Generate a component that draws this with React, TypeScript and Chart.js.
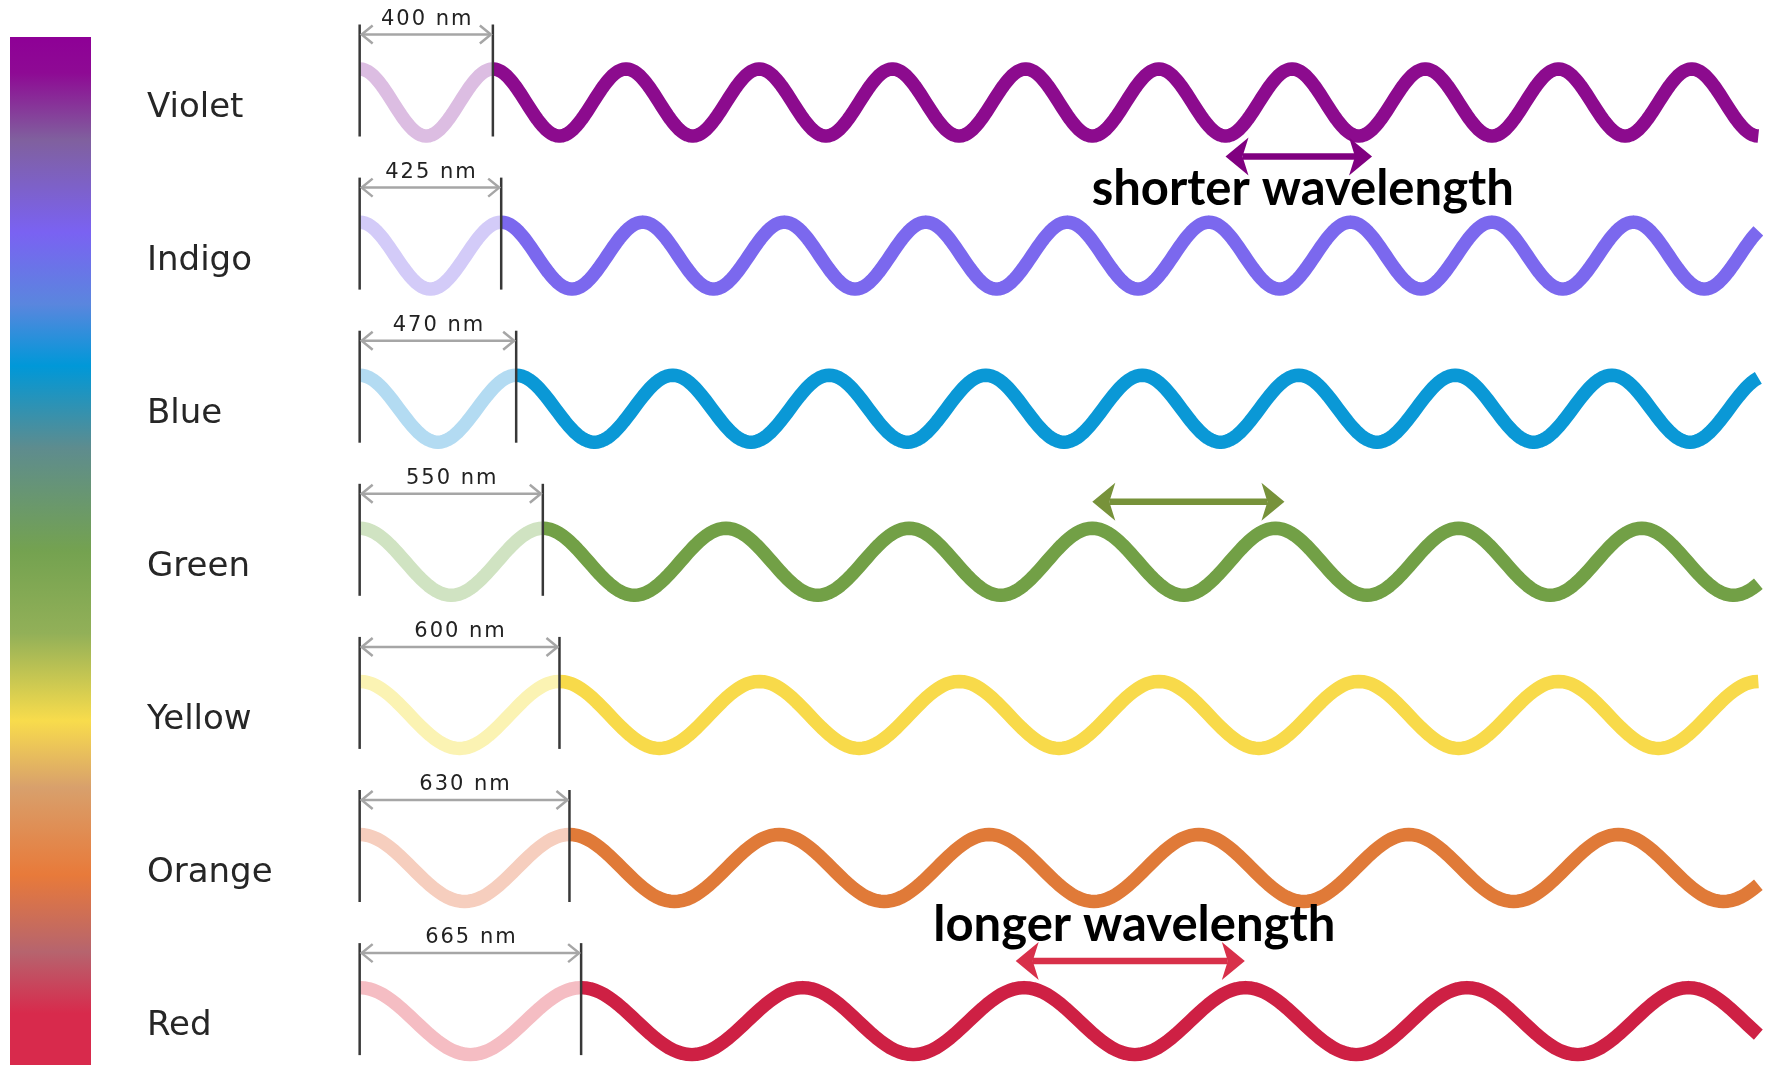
import React, { useEffect, useRef } from "react";
import { Chart, registerables } from "chart.js";

Chart.register(...registerables);

// ---------------- data ----------------
const colorNames = ["Violet", "Indigo", "Blue", "Green", "Yellow", "Orange", "Red"];
const wavelengthsNm = [400, 425, 470, 550, 600, 630, 665];
const waveColors = ["#8c0b8e", "#7b68ee", "#0a98d6", "#72a046", "#f8da4a", "#e07a38", "#ce2044"];
const fadedWaveColors = ["#dcbde2", "#d3cbf8", "#b3dbf2", "#d0e3c2", "#fbf3b3", "#f6cebe", "#f5bdc3"];
const waveSpanNm = 4200;

const arrowRows = [0, 3, 6];
const arrowStartNm = [2600, 2200, 1970];
const arrowEndNm = [3040, 2777, 2658];
const arrowColors = ["#800080", "#77923a", "#d8304a"];

const captionRows = [0, 6];
const captionTexts = ["shorter wavelength", "longer wavelength"];

const spectrumStopFractions = [0, 0.035, 0.1, 0.19, 0.26, 0.32, 0.4, 0.5, 0.58, 0.665, 0.73, 0.815, 0.89, 0.95, 1];
const spectrumStopColors = [
  "#8e0096", "#8e0a94", "#80609e", "#7a62f2", "#5a86de", "#0098d8", "#5e8c8e",
  "#74a250", "#92b058", "#f8dc4c", "#d8a06c", "#e87a3a", "#b6646e", "#d82a4c", "#d82a4c",
];

// ---------------- layout / style constants ----------------
const W = 1765;
const H = 1065;
const X_MIN = -1080;
const X_MAX = 4220;
const Y_MIN = -0.6695;
const Y_MAX = 6.2866;
const AMP = 0.2188; // in row units
const STEPS = 48;

const waveFor = (lam: number, row: number, from: number, to: number) => {
  const pts: { x: number; y: number }[] = [];
  const step = lam / STEPS;
  for (let x = from; x < to - 1e-6; x += step) {
    pts.push({ x, y: row - AMP * Math.cos((2 * Math.PI * x) / lam) });
  }
  pts.push({ x: to, y: row - AMP * Math.cos((2 * Math.PI * to) / lam) });
  return pts;
};

function drawBoldArrow(ctx: CanvasRenderingContext2D, x1: number, x2: number, y: number, color: string) {
  const headL = 23;
  const headW = 19;
  const notch = 0.74;
  ctx.save();
  ctx.strokeStyle = color;
  ctx.fillStyle = color;
  ctx.lineWidth = 6.5;
  ctx.beginPath();
  ctx.moveTo(x1 + headL * notch, y);
  ctx.lineTo(x2 - headL * notch, y);
  ctx.stroke();
  ctx.beginPath();
  ctx.moveTo(x1, y);
  ctx.lineTo(x1 + headL, y - headW);
  ctx.lineTo(x1 + headL * notch, y);
  ctx.lineTo(x1 + headL, y + headW);
  ctx.closePath();
  ctx.fill();
  ctx.beginPath();
  ctx.moveTo(x2, y);
  ctx.lineTo(x2 - headL, y - headW);
  ctx.lineTo(x2 - headL * notch, y);
  ctx.lineTo(x2 - headL, y + headW);
  ctx.closePath();
  ctx.fill();
  ctx.restore();
}

const overlayPlugin = {
  id: "spectrumOverlay",
  beforeDatasetsDraw(chart: any) {
    const ctx: CanvasRenderingContext2D = chart.ctx;
    const top = 37;
    const bottom = H;
    const g = ctx.createLinearGradient(0, top, 0, bottom);
    spectrumStopFractions.forEach((f, i) => g.addColorStop(f, spectrumStopColors[i]));
    ctx.save();
    ctx.fillStyle = g;
    ctx.fillRect(10, top, 81, bottom - top);
    ctx.restore();
  },
  afterDatasetsDraw(chart: any) {
    const ctx: CanvasRenderingContext2D = chart.ctx;
    const xs = chart.scales.x;
    const ys = chart.scales.y;
    ctx.save();
    wavelengthsNm.forEach((lam, row) => {
      const cy = ys.getPixelForValue(row);
      const x0 = xs.getPixelForValue(0);
      const x1 = xs.getPixelForValue(lam);
      // vertical markers
      ctx.strokeStyle = "#383838";
      ctx.lineWidth = 2.5;
      [x0, x1].forEach((x) => {
        ctx.beginPath();
        ctx.moveTo(x, cy - 78);
        ctx.lineTo(x, cy + 34);
        ctx.stroke();
      });
      // dimension arrow
      const ay = cy - 68;
      ctx.strokeStyle = "#a6a6a6";
      ctx.lineWidth = 2.5;
      ctx.beginPath();
      ctx.moveTo(x0 + 2, ay);
      ctx.lineTo(x1 - 2, ay);
      ctx.stroke();
      ctx.beginPath();
      ctx.moveTo(x0 + 13, ay - 9);
      ctx.lineTo(x0 + 2, ay);
      ctx.lineTo(x0 + 13, ay + 9);
      ctx.moveTo(x1 - 13, ay - 9);
      ctx.lineTo(x1 - 2, ay);
      ctx.lineTo(x1 - 13, ay + 9);
      ctx.stroke();
      // dimension label
      ctx.fillStyle = "#222";
      ctx.font = "21px 'DejaVu Sans'";
      (ctx as any).letterSpacing = "2px";
      ctx.textAlign = "center";
      ctx.textBaseline = "alphabetic";
      ctx.fillText(`${lam} nm`, (x0 + x1) / 2 + 1, cy - 78);
      (ctx as any).letterSpacing = "0px";
      // colour name
      ctx.fillStyle = "#262626";
      ctx.font = "34px 'DejaVu Sans'";
      ctx.textAlign = "left";
      ctx.fillText(colorNames[row], 147, cy + 14);
    });
    // bold arrows
    arrowRows.forEach((row, i) => {
      const cy = ys.getPixelForValue(row);
      const y = row === 0 ? cy + 54 : cy - 60;
      drawBoldArrow(ctx, xs.getPixelForValue(arrowStartNm[i]), xs.getPixelForValue(arrowEndNm[i]), y, arrowColors[i]);
    });
    // captions
    ctx.fillStyle = "#000";
    ctx.font = "bold 49px Lato";
    ctx.textAlign = "center";
    ctx.textBaseline = "alphabetic";
    captionRows.forEach((row, i) => {
      const ai = arrowRows.indexOf(row);
      const cx = (xs.getPixelForValue(arrowStartNm[ai]) + xs.getPixelForValue(arrowEndNm[ai])) / 2 + 4;
      const cy = ys.getPixelForValue(row);
      const by = row === 0 ? cy + 102 : cy - 80;
      ctx.fillText(captionTexts[i], cx, by);
    });
    ctx.restore();
  },
};

export default function App() {
  const ref = useRef<HTMLCanvasElement>(null);
  useEffect(() => {
    document.body.style.margin = "0";
    const canvas = ref.current;
    if (!canvas) return;
    const datasets: any[] = [];
    wavelengthsNm.forEach((lam, row) => {
      datasets.push({
        data: waveFor(lam, row, 0, lam),
        borderColor: fadedWaveColors[row],
        borderWidth: 13.5,
        borderCapStyle: "butt",
        borderJoinStyle: "round",
        pointRadius: 0,
        fill: false,
        tension: 0,
      });
      datasets.push({
        data: waveFor(lam, row, lam, waveSpanNm),
        borderColor: waveColors[row],
        borderWidth: 13.5,
        borderCapStyle: "butt",
        borderJoinStyle: "round",
        pointRadius: 0,
        fill: false,
        tension: 0,
      });
    });
    const chart = new Chart(canvas, {
      type: "line",
      data: { datasets },
      options: {
        animation: false,
        responsive: false,
        events: [],
        layout: { padding: 0 },
        plugins: { legend: { display: false }, tooltip: { enabled: false } },
        scales: {
          x: { type: "linear", min: X_MIN, max: X_MAX, display: false },
          y: { type: "linear", min: Y_MIN, max: Y_MAX, reverse: true, display: false },
        },
      },
      plugins: [overlayPlugin],
    } as any);
    return () => chart.destroy();
  }, []);
  return (
    <div style={{ position: "absolute", left: 0, top: 0, width: W, height: H, background: "#fff" }}>
      <canvas ref={ref} width={W} height={H} style={{ display: "block", width: W, height: H }} />
    </div>
  );
}
